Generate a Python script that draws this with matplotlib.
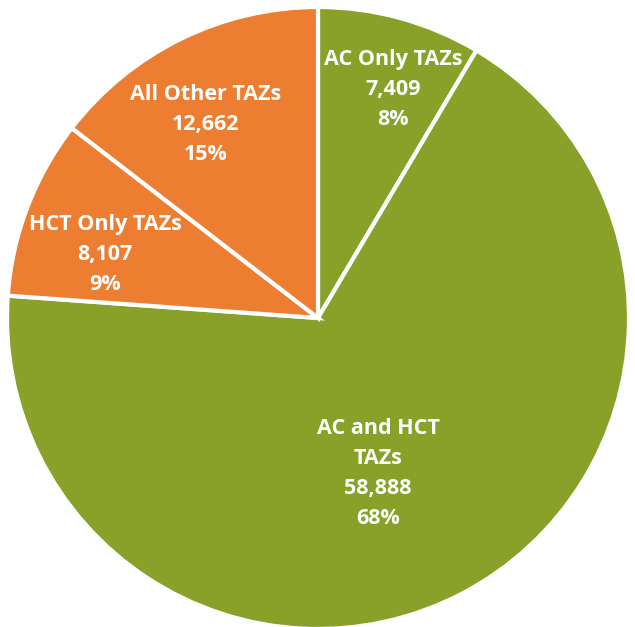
import numpy as np
import matplotlib
matplotlib.use("Agg")
import matplotlib.pyplot as plt

plt.rcParams["font.family"] = ["Open Sans", "DejaVu Sans"]

GREEN = "#89A128"
ORANGE = "#ED7D31"

labels = ["AC Only TAZs", "AC and HCT\nTAZs", "HCT Only TAZs", "All Other TAZs"]
values = [7409, 58888, 8107, 12662]
pcts = ["8%", "68%", "9%", "15%"]
colors = [GREEN, GREEN, ORANGE, ORANGE]
# radial position of each label, as fraction of the radius
label_r = [0.772, 0.535, 0.714, 0.719]
# angular nudges (degrees) from the wedge middle
label_dang = [-2.9, -6.4, 4.3, 4.1]

W, H = 635, 627
fig = plt.figure(figsize=(W / 100, H / 100), dpi=100)
R = 311
cx, cy = 318, H - 318
ax = fig.add_axes([(cx - R) / W, (cy - R) / H, 2 * R / W, 2 * R / H])

wedges, _ = ax.pie(values, colors=colors, startangle=90, counterclock=False,
                   radius=1.0, wedgeprops=dict(edgecolor="white", linewidth=3))
ax.set_xlim(-1, 1)
ax.set_ylim(-1, 1)
ax.set_aspect("equal")
ax.axis("off")

for w, lab, v, p, r, da in zip(wedges, labels, values, pcts, label_r, label_dang):
    ang = np.deg2rad((w.theta1 + w.theta2) / 2 + da)
    ax.text(r * np.cos(ang), r * np.sin(ang), f"{lab}\n{v:,}\n{p}",
            ha="center", va="center", color="white", fontsize=15.5,
            fontweight="bold", linespacing=1.56)

fig.savefig("out.png", dpi=100, facecolor="white")
